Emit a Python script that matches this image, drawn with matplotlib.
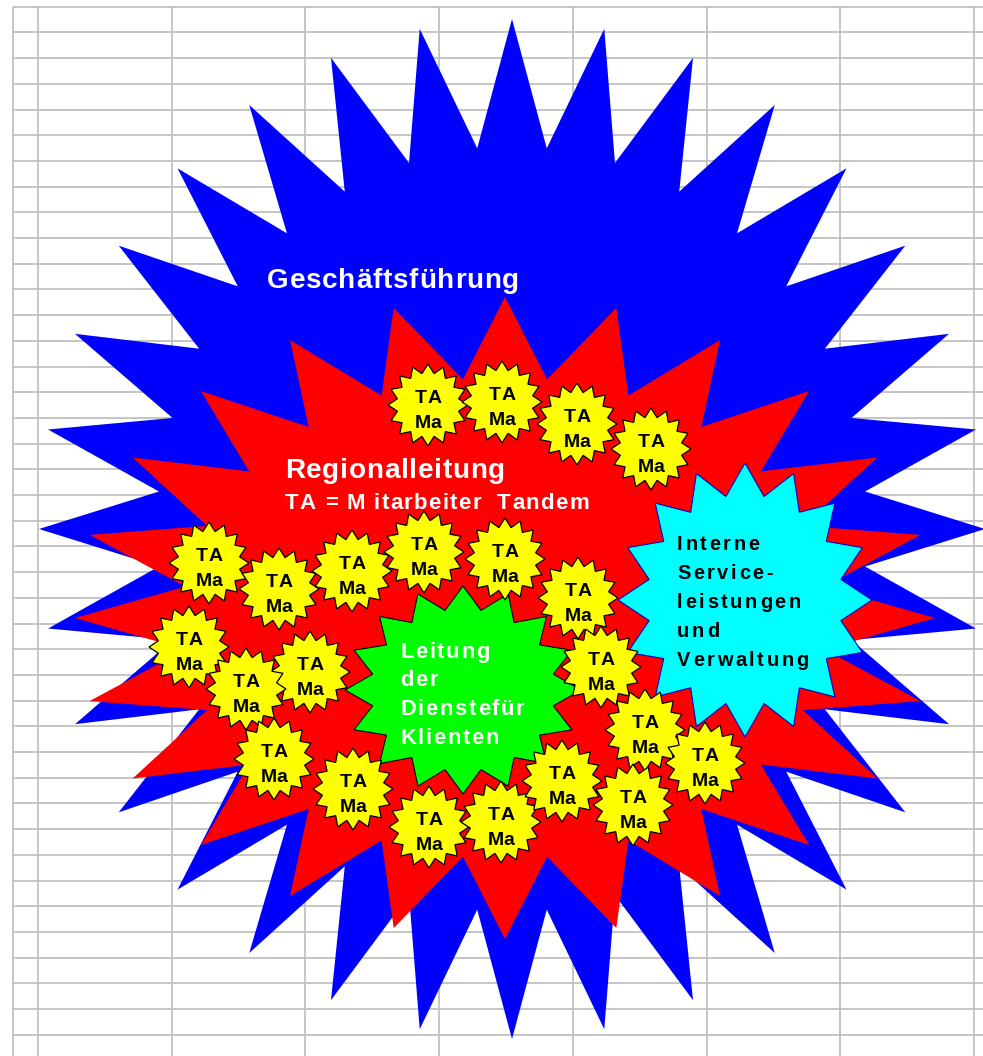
import numpy as np
import matplotlib
matplotlib.use("Agg")
import matplotlib.pyplot as plt
from matplotlib.patches import Polygon
from matplotlib import font_manager
from matplotlib.ft2font import FT2Font, LoadFlags

# Tabellen-Gitter (Pixel)
grid_cols = [13, 38, 172, 305, 439, 573, 707, 840, 974]
grid_rows = 6.7 + 25.7 * np.arange(41)

# Sterne: (Mitte x, Mitte y, Radius x, Radius y, Zacken, Innenverhaeltnis)
star_gf = (512, 529, 473, 510, 32, 0.75)
star_rl = (505, 618, 430, 321, 24, 0.75)
star_dk = (463, 690, 118, 104, 16, 0.78)
star_isv = (745, 600, 127, 137, 16, 0.77)

# Mitarbeiter-Tandems (gelbe Sterne)
ta_x = [428, 502, 577, 651, 209, 279, 352, 424, 505, 578, 189,
        310, 246, 601, 274, 353, 645, 705, 429, 501, 562, 633]
ta_y = [405, 402, 424, 449, 563, 589, 571, 552, 559, 598, 647,
        672, 689, 667, 759, 789, 730, 763, 827, 822, 781, 805]
ta_label = ["TA", "Ma"]

label_gf = "Geschäftsführung"
label_rl = ["Regionalleitung", "TA = M itarbeiter  Tandem"]
label_dk = ["Leitung", "der", "Dienstefür", "Klienten"]
label_isv = ["Interne", "Service-", "leistungen", "und", "Verwaltung"]

W, H = 983, 1056
fig = plt.figure(figsize=(W / 100, H / 100), dpi=100)
ax = fig.add_axes([0, 0, 1, 1])
ax.set_xlim(0, W)
ax.set_ylim(H, 0)
ax.axis("off")

ax.hlines(grid_rows, grid_cols[0], W, color="#c0c0c0", lw=1.3, zorder=0)
ax.vlines(grid_cols, grid_rows[0], H, color="#c0c0c0", lw=1.3, zorder=0)


def star(params, face, edge=None, lw=0.0, z=1):
    cx, cy, rx, ry, n, ratio = params
    t = np.arange(2 * n) * np.pi / n
    r = np.where(np.arange(2 * n) % 2 == 0, 1.0, ratio)
    pts = np.column_stack([cx + r * rx * np.sin(t), cy - r * ry * np.cos(t)])
    ax.add_patch(Polygon(pts, closed=True, facecolor=face,
                         edgecolor=edge if edge else face, lw=lw, zorder=z))


fpath = font_manager.findfont(font_manager.FontProperties(family="Liberation Sans", weight="bold"))
ft = FT2Font(fpath)


def tracked(x, y, s, px, track, color, ha="left", z=10):
    ft.set_size(px * 72 / 100, 100)
    adv = []
    for c in s:
        g = ft.load_char(ord(c), flags=LoadFlags.NO_HINTING)
        adv.append(g.linearHoriAdvance / 65536)
    total = sum(adv) + track * (len(s) - 1)
    if ha == "center":
        x -= total / 2
    for c, a in zip(s, adv):
        if c != " ":
            ax.text(x, y, c, fontsize=px * 72 / 100, family="Liberation Sans",
                    fontweight="bold", color=color, ha="left", va="baseline", zorder=z)
        x += a + track


star(star_gf, "#0000ff", z=1)
star(star_rl, "#ff0000", z=2)
star(star_dk, "#00ff00", edge="#000000", lw=0.8, z=3)
star(star_isv, "#00ffff", edge="#0000cc", lw=0.8, z=4)

for i, (x, y) in enumerate(zip(ta_x, ta_y)):
    star((x, y, 40, 41, 16, 0.78), "#ffff00", edge="#000000", lw=0.9, z=5 + i * 0.01)
    tracked(x, y - 2, ta_label[0], 19.5, 0.6, "black", ha="center", z=6)
    tracked(x, y + 23, ta_label[1], 19.5, 0.3, "black", ha="center", z=6)

tracked(267, 288, label_gf, 27.9, 0.8, "white")
tracked(285, 478, label_rl[0], 27.9, 0.8, "white")
tracked(285, 509, label_rl[1], 22.3, 1.3, "white")

for k, s in enumerate(label_dk):
    tracked(400, 658 + 28.5 * k, s, 21.9, 1.8, "white")

for k, s in enumerate(label_isv):
    tracked(677, 550 + 29 * k, s, 20, 2.6, "black")

fig.savefig("out.png", dpi=100)
